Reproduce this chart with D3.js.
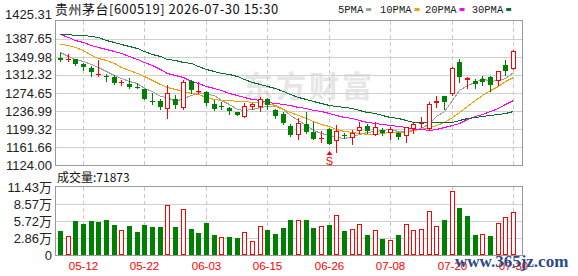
<!DOCTYPE html>
<html><head><meta charset="utf-8">
<script src="https://cdn.jsdelivr.net/npm/d3@7"></script>
<style>body{margin:0;background:#fff;} svg{display:block}</style>
</head><body>
<svg id="c" width="578" height="276"></svg>
<script>
const dates = ["05-07","05-08","05-11","05-12","05-13","05-14","05-15","05-18","05-19","05-20","05-21","05-22","05-25","05-26","05-27","05-28","05-29","06-01","06-02","06-03","06-04","06-05","06-08","06-09","06-10","06-11","06-12","06-15","06-16","06-17","06-18","06-22","06-23","06-24","06-25","06-26","06-29","06-30","07-01","07-02","07-03","07-06","07-07","07-08","07-09","07-10","07-13","07-14","07-15","07-16","07-17","07-20","07-21","07-22","07-23","07-24","07-27","07-28","07-29","07-30"];
const open = [1347.9,1345.2,1345.2,1336.0,1327.6,1311.3,1309.2,1307.5,1296.4,1293.5,1286.6,1283.0,1258.5,1257.9,1240.5,1262.1,1243.9,1299.8,1277.8,1276.7,1251.6,1247.9,1243.3,1234.3,1225.1,1244.7,1244.7,1262.7,1239.1,1230.7,1206.6,1186.1,1209.4,1193.0,1180.1,1198.9,1174.2,1186.1,1180.1,1194.1,1205.6,1186.8,1197.7,1190.3,1190.3,1184.1,1198.7,1209.2,1199.3,1253.1,1268.4,1272.6,1339.5,1301.2,1299.1,1304.6,1308.1,1299.8,1333.2,1325.5];
const high = [1358.3,1355.6,1346.4,1338.1,1330.5,1343.7,1313.8,1312.3,1301.9,1305.4,1296.2,1283.7,1275.3,1262.7,1290.8,1269.8,1301.2,1301.2,1297.0,1279.5,1260.0,1255.8,1246.0,1235.9,1253.1,1253.1,1266.3,1265.2,1241.2,1234.9,1209.8,1221.7,1234.3,1214.0,1195.1,1200.4,1208.7,1191.0,1196.6,1214.0,1209.8,1214.0,1200.8,1202.9,1193.0,1204.1,1214.6,1225.1,1256.4,1268.4,1269.4,1329.7,1345.8,1307.5,1304.6,1310.2,1310.2,1321.7,1344.3,1363.6];
const low = [1341.6,1342.2,1333.9,1322.8,1310.9,1309.2,1299.8,1292.9,1290.8,1285.7,1285.1,1262.1,1251.0,1241.8,1223.0,1243.9,1241.8,1274.0,1274.0,1248.9,1239.5,1240.5,1231.3,1227.6,1223.8,1240.5,1237.6,1241.8,1222.3,1209.8,1184.7,1177.4,1190.3,1178.4,1172.8,1167.9,1150.2,1179.9,1166.9,1191.6,1190.3,1186.1,1187.4,1178.4,1178.4,1171.5,1190.3,1202.9,1197.2,1246.0,1240.5,1269.8,1298.3,1284.1,1285.7,1292.0,1278.8,1290.8,1312.3,1325.5];
const close = [1344.3,1346.0,1334.7,1328.4,1318.0,1315.0,1308.1,1296.2,1297.3,1287.8,1285.7,1262.7,1257.5,1246.0,1274.0,1248.9,1297.7,1281.6,1278.6,1254.4,1240.5,1247.0,1236.4,1229.2,1246.8,1251.0,1262.7,1250.2,1225.5,1211.9,1186.1,1212.9,1193.0,1179.0,1180.9,1168.4,1195.1,1185.1,1191.6,1202.9,1194.5,1203.5,1191.0,1199.3,1183.2,1202.9,1209.8,1212.5,1251.0,1258.5,1255.2,1326.3,1308.8,1305.4,1292.9,1298.3,1291.4,1320.7,1321.3,1362.5];
const volume = [40000,32700,56900,51800,56900,55200,58600,50100,42800,48400,38300,50100,46700,46700,83300,46700,76600,43400,36600,53500,33200,31000,29800,28200,39400,24200,49500,41700,34900,45000,58700,58800,58800,45900,48700,50400,67200,40300,43700,51500,33600,42000,26900,24700,33600,51500,41500,43700,73400,48700,58800,107600,79000,65600,33600,35300,31900,53800,63900,71873];
const ma5 = [1359.8,1353.1,1346.8,1340.6,1334.3,1328.4,1320.9,1313.2,1306.9,1300.8,1295.2,1286.0,1278.4,1268.2,1265.4,1257.9,1264.8,1269.6,1276.1,1272.1,1270.5,1260.4,1251.4,1241.6,1240.1,1242.2,1245.2,1248.1,1247.7,1240.8,1227.8,1218.0,1206.7,1197.0,1190.7,1187.0,1183.4,1181.5,1184.1,1188.7,1193.9,1195.8,1196.8,1198.3,1194.5,1196.0,1197.0,1201.6,1211.9,1226.9,1237.4,1260.6,1279.9,1290.8,1297.7,1306.2,1299.3,1301.6,1305.0,1318.8];
const ma10 = [1376.6,1374.5,1371.3,1363.6,1355.2,1348.9,1344.1,1337.4,1330.1,1323.8,1316.5,1309.2,1301.9,1293.5,1287.2,1282.4,1277.8,1274.2,1271.9,1267.3,1263.1,1260.0,1259.0,1257.9,1257.3,1256.4,1255.4,1253.7,1249.5,1242.2,1234.9,1228.6,1222.3,1217.1,1210.8,1205.0,1198.3,1195.1,1193.5,1191.0,1188.9,1189.9,1191.6,1193.0,1193.0,1193.5,1196.2,1199.3,1202.9,1208.7,1215.0,1223.4,1235.9,1247.5,1259.0,1270.5,1279.9,1290.3,1299.8,1308.1];
const ma20 = [1397.5,1391.8,1386.0,1380.7,1375.7,1370.5,1365.7,1361.5,1357.7,1351.7,1345.2,1338.5,1332.2,1324.9,1317.5,1311.3,1307.1,1300.8,1295.6,1289.3,1284.1,1279.9,1275.7,1271.5,1267.3,1263.1,1259.4,1256.2,1253.7,1251.0,1248.5,1245.4,1242.6,1240.1,1237.0,1232.8,1228.6,1224.4,1221.3,1218.2,1215.0,1211.9,1209.2,1206.7,1204.6,1202.9,1199.8,1198.3,1197.9,1199.8,1202.5,1206.7,1212.9,1220.2,1225.5,1230.7,1236.4,1243.3,1250.6,1259.0];
const ma30 = [1398.7,1397.7,1396.4,1395.0,1393.3,1390.8,1386.6,1382.4,1377.2,1372.0,1367.8,1362.5,1357.3,1352.1,1346.8,1342.7,1339.5,1336.4,1331.2,1325.9,1321.7,1317.5,1314.0,1309.2,1304.0,1298.7,1294.5,1289.3,1284.1,1278.8,1273.6,1267.3,1261.1,1256.9,1253.7,1249.5,1246.8,1244.7,1242.6,1239.1,1235.9,1231.8,1228.6,1224.4,1221.3,1218.2,1215.0,1214.0,1214.0,1214.0,1214.0,1215.0,1219.2,1222.3,1224.4,1226.5,1228.6,1229.7,1232.8,1237.0];
const priceTicks = [1124.00,1161.66,1199.32,1236.99,1274.65,1312.32,1349.98,1387.65,1425.31];
const volTicks = [0,28575,57150,85725,114300];
const volTickLabels = ["0","2.86万","5.72万","8.57万","11.43万"];
const dateTicks = ["05-12","05-22","06-03","06-15","06-26","07-08","07-20","07-30"];
const maNames = ["5PMA","10PMA","20PMA","30PMA"];
const maColors = ["#a0a0a0","#f0a000","#ff00ff","#0a6e2e"];
const signalDate = "06-26";
const titleText = "贵州茅台[600519] 2026-07-30 15:30";
const volLabel = "成交量:71873";

const RED = "#ff0000", GREEN = "#008000";
const svg = d3.select("#c");
const L = 55, R = 522, T = 21, B = 165, VT = 187, VB = 255;
const x = d3.scalePoint().domain(dates).range([60, 513]);
const y = d3.scaleLinear().domain([1124, 1425.31]).range([B, T]);
const yv = d3.scaleLinear().domain([0, 114300]).range([VB, VT]);
const px = d => Math.round(x(d));

// watermark
svg.append("text").attr("x", 243).attr("y", 97).attr("font-family", "Noto Sans CJK SC")
  .attr("font-size", 30).attr("font-weight", "bold").attr("fill", "#e6e6e6").attr("letter-spacing", 3).text("东方财富");

const g = svg.append("g").attr("shape-rendering", "crispEdges");
// grids
g.selectAll(".hg").data(priceTicks.slice(1, -1)).join("line")
  .attr("x1", L).attr("x2", R).attr("y1", d => Math.round(y(d)) + 0.5).attr("y2", d => Math.round(y(d)) + 0.5)
  .attr("stroke", "#d0d0d0");
g.selectAll(".vhg").data(volTicks.slice(1, -1)).join("line")
  .attr("x1", L).attr("x2", R).attr("y1", d => Math.round(yv(d)) + 0.5).attr("y2", d => Math.round(yv(d)) + 0.5)
  .attr("stroke", "#d0d0d0");
dateTicks.forEach(d => {
  [[T, B], [VT, VB]].forEach(([a, b]) => {
    g.append("line").attr("x1", px(d) + 0.5).attr("x2", px(d) + 0.5).attr("y1", a).attr("y2", b)
      .attr("stroke", "#c8c8c8").attr("stroke-dasharray", "4,3");
  });
});
// frames
g.append("rect").attr("x", L + 0.5).attr("y", T - 0.5).attr("width", R - L).attr("height", B - T + 0.5)
  .attr("fill", "none").attr("stroke", "#999");
g.append("rect").attr("x", L + 0.5).attr("y", VT - 0.5).attr("width", R - L).attr("height", VB - VT + 0.5)
  .attr("fill", "none").attr("stroke", "#999");

// MA lines
[ma5, ma10, ma20, ma30].forEach((arr, k) => {
  const line = d3.line().x((v, i) => px(dates[i]) + 0.5).y(v => Math.round(y(v)) + 0.5);
  g.append("path").attr("d", line(arr)).attr("fill", "none").attr("stroke", maColors[k]).attr("stroke-width", 1);
});

// candles
dates.forEach((d, i) => {
  const up = close[i] >= open[i];
  const col = up ? RED : GREEN;
  const xc = px(d);
  const yo = y(open[i]), yc = y(close[i]);
  const top = Math.round(Math.min(yo, yc)), bot = Math.round(Math.max(yo, yc));
  g.append("line").attr("x1", xc + 0.5).attr("x2", xc + 0.5)
    .attr("y1", Math.round(y(high[i]))).attr("y2", Math.round(y(low[i])) + 1).attr("stroke", col);
  const h = bot - top;
  if (h <= 2) {
    g.append("rect").attr("x", xc - 2).attr("y", top).attr("width", 5).attr("height", Math.max(1, h)).attr("fill", col);
  } else if (up) {
    g.append("rect").attr("x", xc - 1.5).attr("y", top + 0.5).attr("width", 4).attr("height", h - 1)
      .attr("fill", "#fff").attr("stroke", col);
  } else {
    g.append("rect").attr("x", xc - 2).attr("y", top).attr("width", 5).attr("height", h).attr("fill", col);
  }
});

// volume bars
dates.forEach((d, i) => {
  const up = i === 0 ? close[i] >= open[i] : close[i] >= close[i - 1];
  const xc = px(d);
  const yt = Math.round(yv(volume[i]));
  if (up) {
    g.append("rect").attr("x", xc - 1.5).attr("y", yt + 0.5).attr("width", 4).attr("height", VB - yt - 1)
      .attr("fill", "#fff").attr("stroke", RED);
  } else {
    g.append("rect").attr("x", xc - 2).attr("y", yt).attr("width", 5).attr("height", VB - yt).attr("fill", GREEN);
  }
});

// signal S
const sx = px(signalDate) + 0.5;
svg.append("path").attr("d", `M${sx},151 L${sx - 3},155 L${sx + 3},155 Z`).attr("fill", RED);
svg.append("text").attr("x", sx).attr("y", 165).attr("text-anchor", "middle").attr("font-family", "Liberation Sans")
  .attr("font-size", 11).attr("fill", RED).text("S");

// labels
const lab = svg.append("g").attr("font-family", "Liberation Sans, Noto Sans CJK SC").attr("font-size", 13).attr("fill", "#222");
priceTicks.forEach((t, k) => {
  lab.append("text").attr("x", 52).attr("y", k === priceTicks.length - 1 ? 14 : y(t))
    .attr("dominant-baseline", "central").attr("text-anchor", "end").text(t.toFixed(2));
});
volTicks.forEach((t, k) => {
  lab.append("text").attr("x", 52).attr("y", yv(t)).attr("dominant-baseline", "central").attr("text-anchor", "end")
    .text(volTickLabels[k]);
});
dateTicks.forEach(d => {
  svg.append("text").attr("x", px(d) + 0.5).attr("y", 269.5).attr("text-anchor", "middle")
    .attr("font-family", "Liberation Sans").attr("font-size", 11.5).attr("fill", RED).text(d);
});

// title & volume label
svg.append("text").attr("x", 55).attr("y", 13.5).attr("font-family", "Noto Sans CJK SC").attr("font-size", 13)
  .attr("letter-spacing", 0.5).attr("fill", "#111").text(titleText);
svg.append("text").attr("x", 57).attr("y", 181.5).attr("font-family", "Noto Sans CJK SC").attr("font-size", 12)
  .attr("fill", "#111").text(volLabel);

// legend
const legX = [338, 380, 425, 471.7];
maNames.forEach((n, k) => {
  const t = svg.append("text").attr("x", legX[k]).attr("y", 12.5).attr("font-family", "Liberation Mono")
    .attr("font-size", 10.5).attr("fill", "#222").text(n);
  const w = t.node().getComputedTextLength();
  svg.append("rect").attr("x", legX[k] + w + 3).attr("y", 8).attr("width", 5).attr("height", 3).attr("fill", maColors[k]);
});

// site watermark
svg.append("text").attr("x", 455).attr("y", 267).attr("font-family", "Liberation Serif").attr("font-weight", "bold")
  .attr("font-size", 17).attr("fill", "#2a4a8a").text("www.365jz.com");
</script>
</body></html>
